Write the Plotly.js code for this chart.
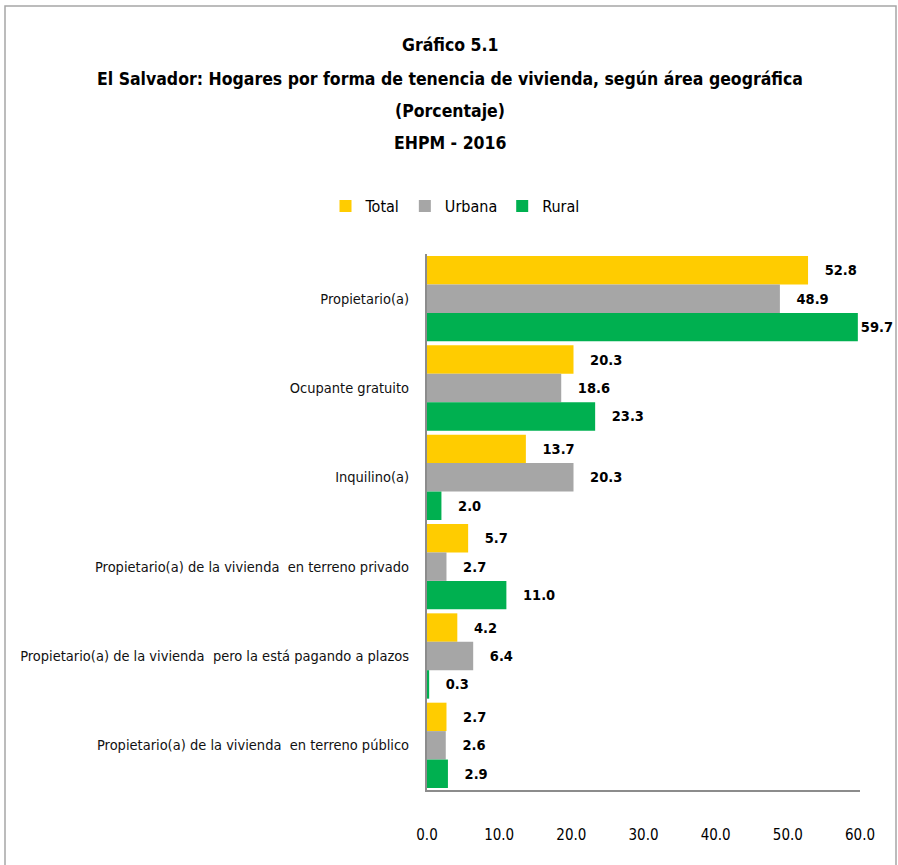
<!DOCTYPE html>
<html>
<head>
<meta charset="utf-8">
<script src="https://cdn.plot.ly/plotly-3.0.1.min.js"></script>
<style>html,body{margin:0;padding:0;background:#fff;}#chart{width:898px;height:865px;}</style>
</head>
<body>
<div id="chart"></div>
<script>
const categories = [
  "Propietario(a)",
  "Ocupante gratuito",
  "Inquilino(a)",
  "Propietario(a) de la vivienda  en terreno privado",
  "Propietario(a) de la vivienda  pero la está pagando a plazos",
  "Propietario(a) de la vivienda  en terreno público"
];
const totalValues  = [52.8, 20.3, 13.7, 5.7, 4.2, 2.7];
const urbanaValues = [48.9, 18.6, 20.3, 2.7, 6.4, 2.6];
const ruralValues  = [59.7, 23.3, 2.0, 11.0, 0.3, 2.9];
const seriesNames  = ["Total", "Urbana", "Rural"];
const seriesColors = ["#FFCC00", "#A6A6A6", "#00B050"];
const tickVals = [0, 10, 20, 30, 40, 50, 60];
const tickText = ["0.0", "10.0", "20.0", "30.0", "40.0", "50.0", "60.0"];
const titleLines = ["Gráfico 5.1", "El Salvador: Hogares por forma de tenencia de vivienda, según área geográfica", "(Porcentaje)", "EHPM - 2016"];

const FONT = "'DejaVu Sans Condensed', 'Liberation Sans Narrow', 'Arial Narrow', sans-serif";
const NB = "\u00a0";
function labels(vals) {
  return vals.map(v => (v > 58 ? "" : NB + NB + NB) + v.toFixed(1));
}
const allSeries = [totalValues, urbanaValues, ruralValues];
const traces = allSeries.map((vals, i) => ({
  type: "bar",
  orientation: "h",
  name: seriesNames[i],
  y: categories,
  x: vals,
  marker: {color: seriesColors[i]},
  text: labels(vals),
  textposition: "outside",
  cliponaxis: false,
  constraintext: "none",
  textfont: {family: FONT, size: 14.5, color: "#000", weight: "bold"},
  hoverinfo: "x+name"
}));

const L = 427, R = 860, T = 254, B = 790;
const px = X => (X - L) / (R - L);
const py = Y => (B - Y) / (B - T);
const titleY = [45, 79, 111, 143];
const annotations = titleLines.map((t, i) => ({
  xref: "paper", yref: "paper",
  x: px(450), y: py(titleY[i]),
  xanchor: "center", yanchor: "middle",
  text: "<b>" + t + "</b>",
  showarrow: false,
  font: {family: FONT, size: 17.5, color: "#000"}
}));

const layout = {
  width: 898, height: 865,
  margin: {l: L, r: 898 - R, t: T, b: 865 - B, pad: 0},
  paper_bgcolor: "#fff", plot_bgcolor: "#fff",
  barmode: "group",
  bargap: 0.045,
  bargroupgap: 0,
  showlegend: true,
  legend: {
    orientation: "h",
    x: px(455), xanchor: "center",
    y: py(206), yanchor: "middle",
    font: {family: FONT, size: 16, color: "#000"},
    itemwidth: 30,
    tracegroupgap: 0,
    traceorder: "normal"
  },
  xaxis: {
    range: [0, 60],
    tickvals: tickVals,
    ticktext: tickText,
    showgrid: false,
    zeroline: false,
    showline: true,
    linecolor: "#8c8c8c",
    linewidth: 2,
    ticks: "",
    ticklabelstandoff: 30,
    tickfont: {family: FONT, size: 15, color: "#000"},
    fixedrange: true
  },
  yaxis: {
    autorange: "reversed",
    showgrid: false,
    zeroline: false,
    showline: true,
    linecolor: "#8c8c8c",
    linewidth: 2,
    ticks: "",
    ticklabelstandoff: 13,
    tickfont: {family: FONT, size: 14.5, color: "#111"},
    fixedrange: true
  },
  annotations: annotations,
  shapes: [{
    type: "rect", xref: "paper", yref: "paper",
    x0: px(5), x1: px(896), y0: py(875), y1: py(6),
    line: {color: "#a6a6a6", width: 1.5},
    fillcolor: "rgba(0,0,0,0)"
  }]
};

Plotly.newPlot("chart", traces, layout, {displayModeBar: false, staticPlot: true});
</script>
</body>
</html>
